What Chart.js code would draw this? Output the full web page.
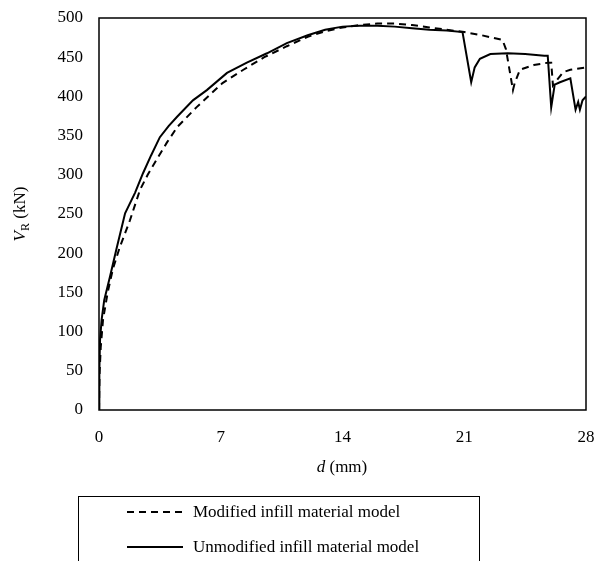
<!DOCTYPE html>
<html>
<head>
<meta charset="utf-8">
<script src="https://cdn.jsdelivr.net/npm/chart.js@4.4.1/dist/chart.umd.min.js"></script>
<style>
  html, body { margin: 0; padding: 0; background: #fff; }
  #wrap { position: relative; width: 596px; height: 561px; overflow: hidden; font-family: "Liberation Serif", "Times New Roman", serif; color: #000; }
  canvas { position: absolute; left: 0; top: 0; }
  .ytitle { position: absolute; left: -30px; top: 204px; width: 100px; height: 20px; line-height: 20px; text-align: center; transform: rotate(-90deg); font-size: 17px; font-weight: normal; white-space: nowrap; }
  .xtitle { position: absolute; left: 292px; top: 457px; width: 100px; height: 20px; line-height: 20px; text-align: center; font-size: 17px; white-space: nowrap; }
  .legend { position: absolute; left: 78px; top: 496px; width: 402px; height: 90px; border: 1.5px solid #000; box-sizing: border-box; }
  .entry { position: absolute; left: 48px; font-size: 17px; white-space: nowrap; display: flex; align-items: center; }
  .entry svg { margin-right: 10px; }
</style>
</head>
<body>
<div id="wrap">
  <canvas id="c" width="596" height="561"></canvas>
  <div class="ytitle"><i>V</i><sub style="font-size:12px">R</sub> (kN)</div>
  <div class="xtitle"><i>d</i> (mm)</div>
  <div class="legend">
    <div class="entry" style="top:5px"><svg width="56" height="4"><line x1="0" y1="2" x2="56" y2="2" stroke="#000" stroke-width="2" stroke-dasharray="7 5"/></svg><span id="l0"></span></div>
    <div class="entry" style="top:40px"><svg width="56" height="4"><line x1="0" y1="2" x2="56" y2="2" stroke="#000" stroke-width="2"/></svg><span id="l1"></span></div>
  </div>
</div>
<script>
const seriesNames = ["Modified infill material model", "Unmodified infill material model"];
const xTicks = [0, 7, 14, 21, 28];

const modX = [0, 0.03, 0.1, 0.23, 0.5, 0.8, 1.2, 1.78, 2.36, 2.8, 3.3, 3.9, 4.5, 5.6, 7.1, 8.3, 9.5, 10.8, 12, 13, 14, 15, 16, 17, 18, 19, 20, 21, 22, 23.2, 23.4, 23.8, 23.9, 24.2, 25, 25.8, 26.0, 26.1, 26.3, 26.7, 27.1, 28];
const modY = [0, 45, 80, 115, 150, 180, 208, 242, 281, 300, 319, 341, 361, 386, 417, 434, 450, 464, 476, 483, 488, 491, 493, 493, 491, 488, 485, 482, 478, 472, 460, 408, 417, 434, 440, 443, 443, 414, 420, 431, 434, 437];

const unmodX = [0, 0.02, 0.06, 0.15, 0.3, 0.63, 1.0, 1.5, 2.07, 2.53, 3.0, 3.5, 4.0, 4.49, 5.4, 6.2, 7.36, 8.5, 9.66, 10.8, 12, 13, 14, 15, 16, 17, 18, 19, 20, 20.9, 21.4, 21.6, 21.9, 22.5, 23.5, 24.5, 25.6, 25.8, 26.0, 26.2, 26.5, 27.1, 27.4, 27.55, 27.65, 27.8, 28];
const unmodY = [0, 50, 89, 115, 140, 170, 205, 251, 277, 302, 325, 348, 362, 374, 395, 408, 430, 443, 455, 468, 478, 485, 489, 490, 490, 489, 487, 485, 484, 482, 418, 437, 448, 454, 455, 454, 452, 452, 386, 415, 418, 423, 383, 393, 383, 395, 400];

document.getElementById('l0').textContent = seriesNames[0];
document.getElementById('l1').textContent = seriesNames[1];

const toPts = (xs, ys) => xs.map((x, i) => ({ x: x, y: ys[i] }));

const frame = {
  id: 'frame',
  afterDraw(chart) {
    const a = chart.chartArea, ctx = chart.ctx;
    ctx.save();
    ctx.strokeStyle = '#000';
    ctx.lineWidth = 1.5;
    ctx.strokeRect(a.left, a.top, a.right - a.left, a.bottom - a.top);
    ctx.restore();
  }
};

const tickFont = { family: '"Liberation Serif", "Times New Roman", serif', size: 17 };

new Chart(document.getElementById('c'), {
  type: 'line',
  data: {
    datasets: [
      { label: seriesNames[0], data: toPts(modX, modY), borderColor: '#000', borderWidth: 2, borderDash: [7, 5], pointRadius: 0, tension: 0, fill: false },
      { label: seriesNames[1], data: toPts(unmodX, unmodY), borderColor: '#000', borderWidth: 2, pointRadius: 0, tension: 0, fill: false }
    ]
  },
  options: {
    responsive: false,
    animation: false,
    layout: { padding: { left: 0, right: 10, top: 18, bottom: 111 } },
    plugins: { legend: { display: false }, tooltip: { enabled: false } },
    scales: {
      x: {
        type: 'linear', min: 0, max: 28,
        afterBuildTicks: s => { s.ticks = xTicks.map(v => ({ value: v })); },
        afterFit: s => { s.height = 40; s.paddingLeft = 0; s.paddingRight = 0; },
        grid: { display: false, drawTicks: false },
        border: { display: false },
        ticks: { color: '#000', font: tickFont, padding: 17, maxRotation: 0 }
      },
      y: {
        type: 'linear', min: 0, max: 500,
        afterFit: s => { s.width = 99; s.paddingTop = 0; s.paddingBottom = 0; },
        grid: { display: false, drawTicks: false },
        border: { display: false },
        ticks: { color: '#000', font: tickFont, padding: 16, stepSize: 50 }
      }
    }
  },
  plugins: [frame]
});
</script>
</body>
</html>
